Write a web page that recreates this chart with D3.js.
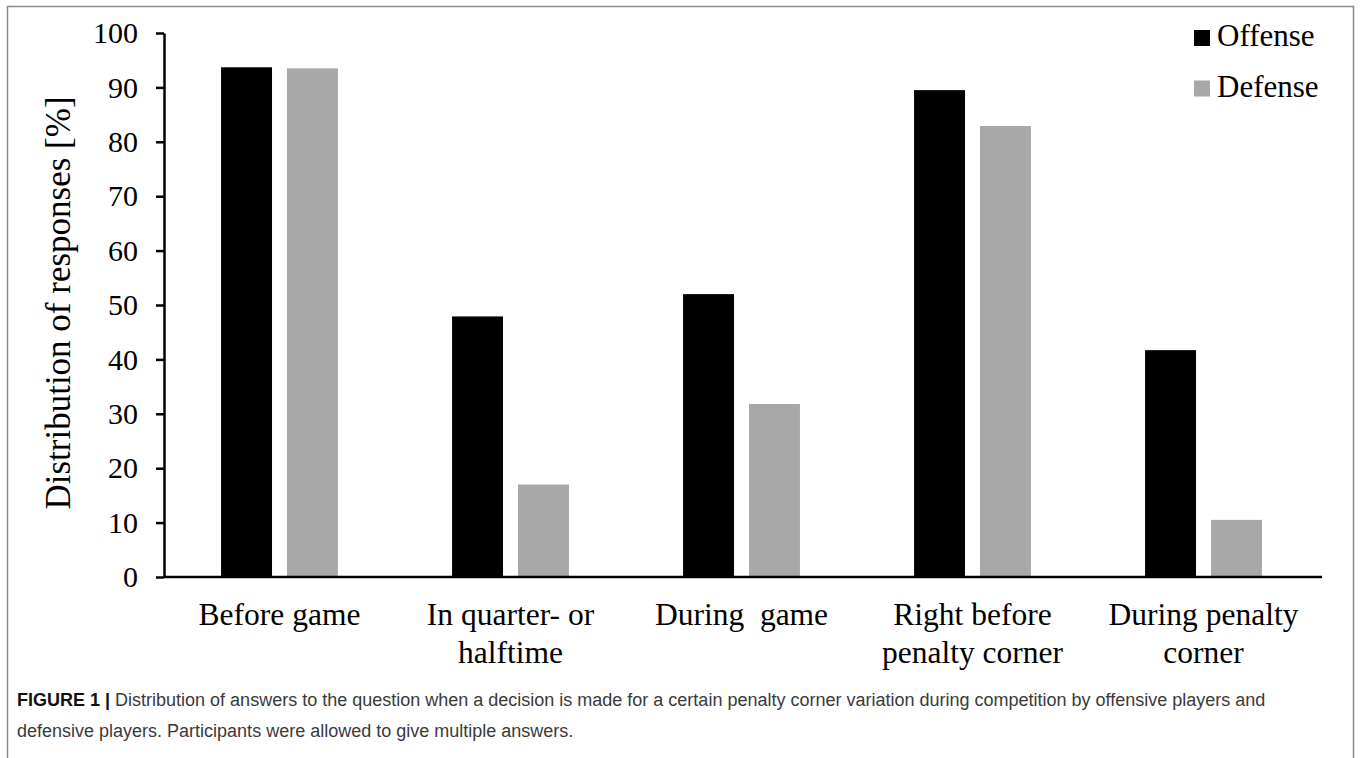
<!DOCTYPE html>
<html>
<head>
<meta charset="utf-8">
<script src="https://cdn.jsdelivr.net/npm/d3@7"></script>
<style>
  body { margin: 0; background: #fff; }
  svg { display: block; }
</style>
</head>
<body>
<div id="plot"></div>
<script>
// categories, split over two lines where the original wraps
const categories = ["Before game", "In quarter- or halftime", "During  game", "Right before penalty corner", "During penalty corner"];
const labelLines = [["Before game"], ["In quarter- or", "halftime"], ["During  game"], ["Right before", "penalty corner"], ["During penalty", "corner"]];
const seriesNames = ["Offense", "Defense"];
const offense = [93.7, 47.9, 52.0, 89.5, 41.7];
const defense = [93.5, 17.0, 31.8, 82.9, 10.5];
const yTicks = [0, 10, 20, 30, 40, 50, 60, 70, 80, 90, 100];
const colors = { Offense: "#000000", Defense: "#a8a8a8" };

const W = 1360, H = 758;
const margin = { top: 33, left: 164, right: 41, bottom: 181 };
const width = W - margin.left - margin.right;
const height = H - margin.top - margin.bottom;
const serif = "'Liberation Serif', 'Times New Roman', serif";

const svg = d3.select("#plot").append("svg")
  .attr("width", W)
  .attr("height", H);

// frame round the figure (open at the bottom, cut off)
svg.append("path")
  .attr("d", `M7.5,${H} V6.5 H1353.5 V${H}`)
  .attr("fill", "none")
  .attr("stroke", "#8a8a8a")
  .attr("stroke-width", 1.5);

const g = svg.append("g")
  .attr("transform", `translate(${margin.left},${margin.top})`);

const x0 = d3.scaleBand()
  .domain(categories)
  .range([0, width])
  .padding(0);

const x1 = d3.scaleBand()
  .domain(seriesNames)
  .range([x0.bandwidth() * 0.247, x0.bandwidth() * 0.753])
  .paddingInner(0.227);

const y = d3.scaleLinear()
  .domain([0, 100])
  .range([height, 0]);

const rows = categories.map((c, i) => ({ cat: c, Offense: offense[i], Defense: defense[i] }));

// bars
g.selectAll(".grp")
  .data(rows)
  .enter().append("g")
  .attr("class", "grp")
  .attr("transform", d => `translate(${x0(d.cat)},0)`)
  .selectAll("rect")
  .data(d => seriesNames.map(s => ({ s, v: d[s] })))
  .enter().append("rect")
  .attr("x", d => x1(d.s))
  .attr("width", x1.bandwidth())
  .attr("y", d => y(d.v))
  .attr("height", d => height - y(d.v))
  .attr("fill", d => colors[d.s]);

// y axis
const yAxis = g.append("g")
  .call(d3.axisLeft(y).tickValues(yTicks).tickSize(8).tickSizeOuter(0).tickPadding(18));
yAxis.select(".domain").attr("stroke", "#000").attr("stroke-width", 2.5);
yAxis.selectAll(".tick line").attr("stroke", "#000").attr("stroke-width", 2.5);
yAxis.selectAll(".tick text")
  .attr("fill", "#000")
  .style("font-family", serif)
  .style("font-size", "30px");

// x axis line, labels drawn below with tspans
const xAxis = g.append("g")
  .attr("transform", `translate(0,${height})`)
  .call(d3.axisBottom(x0).tickSize(0).tickSizeOuter(0).tickFormat(""));
xAxis.select(".domain").attr("stroke", "#000").attr("stroke-width", 2.5)
  .attr("d", `M0,0H${width + 3}`);

const xl = g.selectAll(".xlab")
  .data(categories)
  .enter().append("text")
  .attr("class", "xlab")
  .attr("text-anchor", "middle")
  .attr("x", d => x0(d) + x0.bandwidth() / 2)
  .attr("y", height + 48)
  .style("font-family", serif)
  .style("font-size", "31.5px")
  .style("white-space", "pre")
  .attr("fill", "#000");
xl.selectAll("tspan")
  .data((d, i) => labelLines[i])
  .enter().append("tspan")
  .attr("x", function () { return this.parentNode.getAttribute("x"); })
  .attr("dy", (d, i) => i === 0 ? 0 : 38)
  .text(d => d);

// y axis title
g.append("text")
  .attr("transform", `translate(${70 - margin.left},${height / 2 - 2}) rotate(-90)`)
  .attr("text-anchor", "middle")
  .style("font-family", serif)
  .style("font-size", "35px")
  .attr("fill", "#000")
  .text("Distribution of responses [%]");

// legend
const legend = svg.selectAll(".leg")
  .data(seriesNames)
  .enter().append("g")
  .attr("class", "leg")
  .attr("transform", (d, i) => `translate(1194,${30 + i * 50.5})`);
legend.append("rect")
  .attr("width", 16)
  .attr("height", 16)
  .attr("fill", d => colors[d]);
legend.append("text")
  .attr("x", 23)
  .attr("y", 16)
  .style("font-family", serif)
  .style("font-size", "31px")
  .attr("fill", "#000")
  .text(d => d);

// figure caption
const capFont = "'Liberation Sans', Arial, sans-serif";
const cap = svg.append("text")
  .attr("x", 17)
  .attr("y", 706)
  .style("font-family", capFont)
  .style("font-size", "18px")
  .attr("fill", "#3a3a3a");
cap.append("tspan").attr("font-weight", "bold").attr("fill", "#111").text("FIGURE 1 | ");
cap.append("tspan").text("Distribution of answers to the question when a decision is made for a certain penalty corner variation during competition by offensive players and");
svg.append("text")
  .attr("x", 17)
  .attr("y", 737)
  .style("font-family", capFont)
  .style("font-size", "18px")
  .attr("fill", "#3a3a3a")
  .text("defensive players. Participants were allowed to give multiple answers.");
</script>
</body>
</html>
